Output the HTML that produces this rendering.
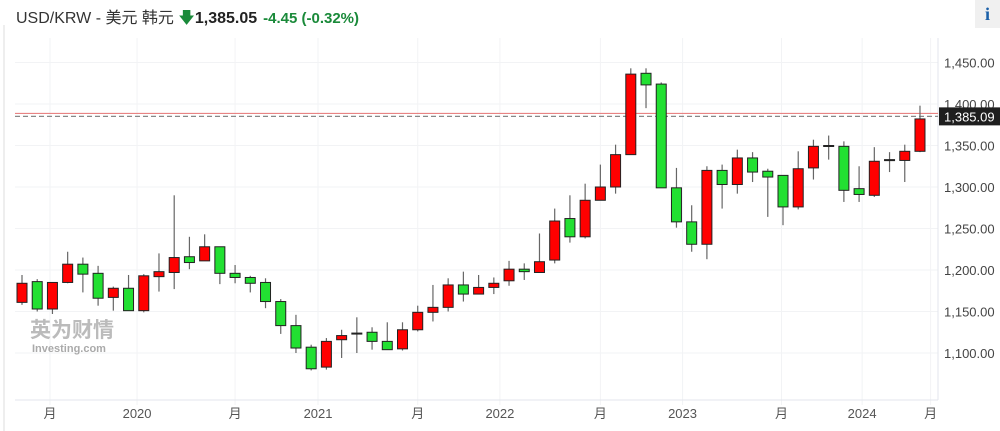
<!DOCTYPE html>
<html><head><meta charset="utf-8"><style>
html,body{margin:0;padding:0;background:#fff;width:1000px;height:431px;overflow:hidden}
body{font-family:"Liberation Sans","Noto Sans CJK SC",sans-serif;position:relative}
#hdr{position:absolute;left:16px;top:4px;font-size:16px;color:#333;white-space:nowrap}
#hdr b{color:#222}
#hdr .chg{color:#1a8a3a;font-weight:bold;font-size:15px;margin-left:6px}
#info{position:absolute;left:975px;top:0;width:25px;height:28px;background:#f0f0f0;color:#1a5fa8;font-weight:bold;font-family:"Liberation Serif",serif;font-size:18px;text-align:center;line-height:28px}
#lb{position:absolute;left:3px;top:25px;width:2px;height:406px;background:#eee}
svg{position:absolute;left:0;top:0}
</style></head><body>
<div id="lb"></div>
<div id="hdr">USD/KRW - 美元 韩元 <span style="color:#1a8a3a">&#x1F847;</span><b>1,385.05</b><span class="chg">-4.45 (-0.32%)</span></div>
<div id="info">i</div>
<svg id="chart" width="1000" height="431"></svg>
<script>
const opens=[1161,1186,1153,1185,1207,1196,1167,1178,1151,1192,1197,1216,1211,1228,1196,1191,1185,1162,1133,1107,1083,1116,1123,1125,1114,1105,1128,1149,1155,1182,1171,1179,1187,1201,1197,1212,1262,1240,1284,1300,1339,1437,1424,1299,1258,1231,1320,1303,1335,1319,1314,1276,1323,1349,1349,1298,1290,1332,1332,1343];
const highs=[1194,1189,1185,1222,1215,1205,1180,1194,1195,1220,1290,1240,1243,1228,1206,1193,1190,1165,1146,1110,1118,1128,1143,1131,1137,1137,1157,1182,1190,1198,1194,1191,1211,1208,1244,1274,1290,1304,1327,1351,1443,1443,1426,1323,1278,1325,1327,1345,1342,1322,1314,1343,1357,1362,1355,1325,1348,1342,1351,1398];
const lows=[1158,1150,1147,1184,1173,1157,1151,1151,1149,1174,1177,1201,1211,1183,1184,1173,1154,1123,1100,1079,1080,1094,1100,1104,1104,1103,1126,1138,1150,1162,1171,1171,1181,1188,1197,1208,1233,1238,1284,1292,1339,1395,1299,1251,1222,1213,1274,1292,1306,1264,1254,1273,1309,1333,1282,1282,1288,1318,1306,1342];
const closes=[1184,1153,1185,1207,1195,1166,1178,1151,1193,1198,1215,1209,1228,1196,1191,1184,1162,1133,1106,1081,1114,1121,1124,1114,1104,1128,1149,1155,1182,1171,1179,1184,1201,1198,1210,1259,1240,1284,1300,1339,1436,1423,1299,1258,1231,1320,1303,1335,1318,1312,1276,1322,1349,1350,1296,1291,1331,1333,1343,1382];
const yTicks=[1100,1150,1200,1250,1300,1350,1400,1450];
const xTickLabels=["月","2020","月","2021","月","2022","月","2023","月","2024","月"];
const xTickIdx=[1.84,7.56,14,19.45,26,31.4,38,43.4,49.9,55.2,59.7];
const lastPrice=1385.09;

const NS="http://www.w3.org/2000/svg";
const svg=document.getElementById('chart');
const X0=22,DX=15.22,AXR=938,AXB=400;
const yS=v=>104+(1400-v)*0.83;
const xS=i=>X0+i*DX;
function mk(t,a,p){const e=document.createElementNS(NS,t);for(const k in a)e.setAttribute(k,a[k]);(p||svg).appendChild(e);return e;}
// grid
yTicks.forEach(v=>{
  const l=mk('line',{x1:15,x2:AXR,y1:yS(v),y2:yS(v),stroke:'#f2f3f5','stroke-width':1});
  
  
  const t=mk('text',{x:944,y:yS(v)+5,'font-size':13,fill:'#444','font-family':'Liberation Sans, sans-serif'});
  t.textContent=v.toLocaleString('en-US',{minimumFractionDigits:2});
  
  
});
xTickIdx.forEach((ix,k)=>{
  const x=xS(ix);
  const g=mk('line',{x1:x,x2:x,y1:38,y2:AXB+5,stroke:'#f2f3f5','stroke-width':1});
  
  
  const t=mk('text',{x:x,y:418,'font-size':13,fill:'#555','text-anchor':'middle','font-family':'Liberation Sans, Noto Sans CJK SC, sans-serif'});
  t.textContent=xTickLabels[k];
  
  
});
const ax=mk('line',{x1:15,x2:AXR,y1:AXB,y2:AXB,stroke:'#e3e6ec','stroke-width':1});


const ay=mk('line',{x1:AXR,x2:AXR,y1:38,y2:AXB,stroke:'#e3e6ec','stroke-width':1});


// watermark
const wm=mk('text',{x:30,y:337,'font-size':21,'font-weight':'bold',fill:'#bbb','font-family':'Noto Sans CJK SC, sans-serif'});
wm.textContent='英为财情';


const wm2=mk('text',{x:32,y:352,'font-size':11,'font-weight':'bold',fill:'#aaa'});
wm2.textContent='Investing.com';


// price lines
const rl=mk('line',{x1:15,x2:AXR,y1:yS(lastPrice)-3,y2:yS(lastPrice)-3,stroke:'#e57373','stroke-width':1});


const dl=mk('line',{x1:15,x2:AXR,y1:yS(lastPrice),y2:yS(lastPrice),stroke:'#888','stroke-width':1.3,'stroke-dasharray':'5,3'});


// candles
opens.forEach((o,i)=>{
  const c=closes[i],x=xS(i);
  const g=mk('g',{});
  
  
  mk('line',{x1:x,x2:x,y1:yS(highs[i]),y2:yS(lows[i]),stroke:'#666','stroke-width':1.2},g);
  const top=yS(Math.max(o,c)),bot=yS(Math.min(o,c));
  const h=Math.max(bot-top,1);
  mk('rect',{x:x-5,y:top,width:10,height:h,fill:c>=o?'#ff0000':'#22e032',stroke:'#222','stroke-width':1},g);
});
// price label
const pl=mk('rect',{x:939,y:yS(lastPrice)-9,width:61,height:18,fill:'#1e1e1e'});


const pt=mk('text',{x:944,y:yS(lastPrice)+5,'font-size':13,fill:'#fff'});
pt.textContent=lastPrice.toLocaleString('en-US',{minimumFractionDigits:2});


</script>
</body></html>
